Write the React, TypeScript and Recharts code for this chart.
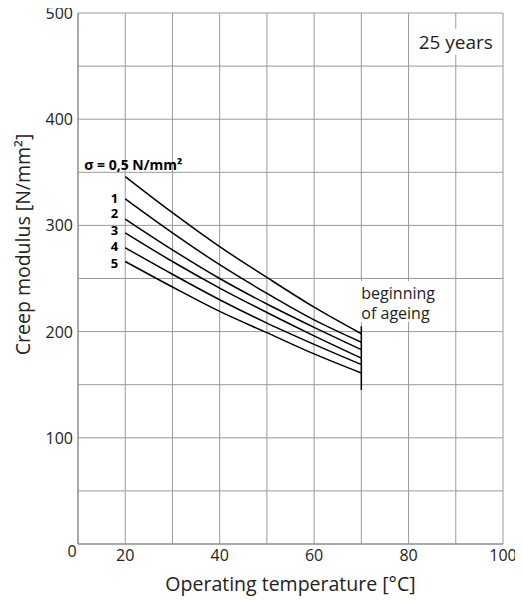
import React from "react"
import {
  LineChart, Line, XAxis, YAxis, CartesianGrid, ReferenceLine, ReferenceDot, Label,
} from "recharts"

// operating temperature [°C]
const temps = [20, 30, 40, 50, 60, 70]

// creep modulus [N/mm²] after 25 years, one curve per stress level
const sigma05 = [346, 312, 280, 251, 223, 198]
const sigma1 = [325, 293, 263, 236, 211, 190]
const sigma2 = [306, 277, 250, 226, 204, 183]
const sigma3 = [293, 266, 241, 218, 196, 175]
const sigma4 = [279, 254, 230, 208, 188, 169]
const sigma5 = [266, 242, 219, 199, 179, 161]

const seriesKeys = ["s05", "s1", "s2", "s3", "s4", "s5"]
const seriesLabels = ["σ = 0,5 N/mm²", "1", "2", "3", "4", "5"]
const seriesValues = [sigma05, sigma1, sigma2, sigma3, sigma4, sigma5]

const xTicks = [10, 20, 30, 40, 50, 60, 70, 80, 90, 100]
const yTicks = [0, 50, 100, 150, 200, 250, 300, 350, 400, 450, 500]

// "beginning of ageing" marker at 70 °C
const ageingTemp = 70
const ageingRange = [145, 205]

const data = temps.map((t, i) => {
  const row: Record<string, number> = { t }
  seriesKeys.forEach((k, j) => { row[k] = seriesValues[j][i] })
  return row
})

const FONT = "'Open Sans', sans-serif"
const TEXT = "#222"
// nudge the small curve numbers so they stack evenly like in the print
const labelNudge = [0, -1, -6, -3, -2, 1]

function XTick({ x, y, payload }: any) {
  const v = payload.value
  if (v === 10) {
    return <text x={x - 6} y={y - 4} dy="0.71em" textAnchor="middle" fontSize={16} fill={TEXT}>0</text>
  }
  if (v % 20 !== 0) return <g />
  return <text x={x} y={y} dy="0.71em" textAnchor="middle" fontSize={16} fill={TEXT}>{v}</text>
}

function YTick({ x, y, payload }: any) {
  const v = payload.value
  if (v === 0 || v % 100 !== 0) return <g />
  return <text x={x} y={y} dominantBaseline="central" textAnchor="end" fontSize={16} fill={TEXT}>{v}</text>
}

function curveLabel(i: number) {
  return (props: any) => {
    const { x, y, index } = props
    if (index !== 0) return <g />
    if (i === 0) {
      return (
        <text x={x - 41} y={y - 12} dominantBaseline="central" fontSize={14} fontWeight="bold" fill="#000">
          {seriesLabels[i]}
        </text>
      )
    }
    return (
      <text x={x - 7} y={y + labelNudge[i]} dominantBaseline="central" textAnchor="end" fontSize={13} fontWeight="bold" fill="#000">
        {seriesLabels[i]}
      </text>
    )
  }
}

export default function App() {
  return (
    <div style={{ width: 515, height: 598, marginTop: -8, fontFamily: FONT }}>
      <LineChart
        width={515}
        height={598}
        data={data}
        margin={{ top: 13, right: 20, bottom: 0, left: 0 }}
      >
        <CartesianGrid stroke="#9a9a9a" strokeWidth={1} />
        <XAxis
          dataKey="t"
          type="number"
          domain={[10, 100]}
          ticks={xTicks}
          interval={0}
          height={54}
          tickSize={0}
          tickMargin={6}
          axisLine={{ stroke: "#888" }}
          tick={<XTick />}
        >
          <Label value="Operating temperature [°C]" position="insideBottom" offset={7} fontSize={19.5} fill={TEXT} />
        </XAxis>
        <YAxis
          type="number"
          domain={[0, 500]}
          ticks={yTicks}
          interval={0}
          width={70}
          tickSize={0}
          tickMargin={5}
          axisLine={{ stroke: "#888" }}
          tick={<YTick />}
        >
          <Label
            content={({ viewBox }: any) => {
              const cx = viewBox.x + 14
              const cy = viewBox.y + viewBox.height / 2 - 34
              return (
                <text x={cx} y={cy} transform={`rotate(-90, ${cx}, ${cy})`} textAnchor="middle"
                  dominantBaseline="central" fontSize={19.5} fill={TEXT}>
                  Creep modulus [N/mm²]
                </text>
              )
            }}
          />
        </YAxis>
        {seriesKeys.map((k, i) => (
          <Line
            key={k}
            dataKey={k}
            type="monotone"
            stroke="#000"
            strokeWidth={1.5}
            dot={false}
            activeDot={false}
            isAnimationActive={false}
            label={curveLabel(i)}
          />
        ))}
        <ReferenceLine
          segment={[{ x: ageingTemp, y: ageingRange[0] }, { x: ageingTemp, y: ageingRange[1] }]}
          stroke="#000"
          strokeWidth={1.5}
        />
        <ReferenceDot
          x={ageingTemp}
          y={227}
          r={0}
          shape={({ cx, cy }: any) => (
            <g>
              <rect x={cx - 1} y={cy - 22} width={82} height={41} fill="#fff" />
              <text x={cx} y={cy - 10} dominantBaseline="central" fontSize={16} fill={TEXT}>beginning</text>
              <text x={cx} y={cy + 10} dominantBaseline="central" fontSize={16} fill={TEXT}>of ageing</text>
            </g>
          )}
        />
        <ReferenceDot
          x={90}
          y={473}
          r={0}
          shape={({ cx, cy }: any) => (
            <g>
              <rect x={cx - 40} y={cy - 13} width={80} height={26} fill="#fff" />
              <text x={cx} y={cy} textAnchor="middle" dominantBaseline="central" fontSize={19} fill={TEXT}>25 years</text>
            </g>
          )}
        />
      </LineChart>
    </div>
  )
}
